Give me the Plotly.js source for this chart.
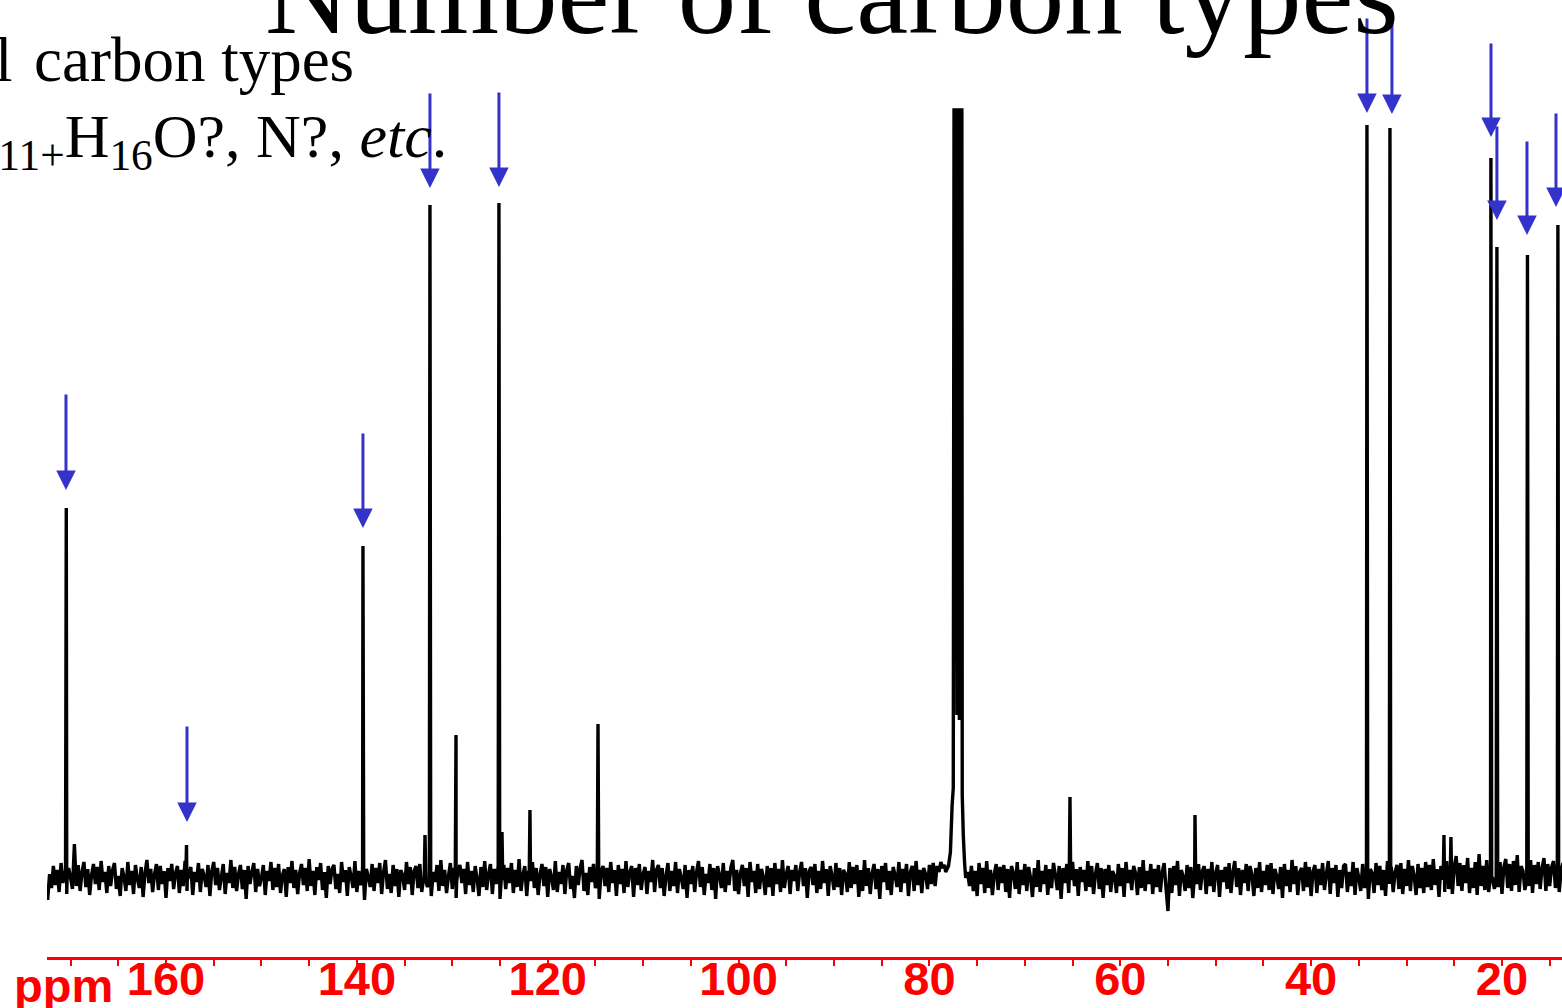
<!DOCTYPE html>
<html><head><meta charset="utf-8">
<script src="https://cdn.plot.ly/plotly-3.0.1.min.js"></script>
<style>html,body{margin:0;padding:0;background:#fff;overflow:hidden}#chart{width:1562px;height:1008px}</style>
</head><body><div id="chart"></div>
<script>
// ---- 13C spectrum data (ppm axis, intensity in arbitrary units; baseline = 0) ----
const noiseStart = 172.4;   // ppm of first baseline sample
const noiseStep = 0.2;      // ppm between baseline samples
const noise = [
 -20, 6, -8, 14, -5, 10, -12, 17, -3, 9, -14, 12, 2, -9, 36, -6, 15, -11, 8, 18,
 -7, 11, -15, 5, 16, -4, 13, -10, 19, -2, 8, -13, 14, -6, 10, 17, -9, 4, -16, 12,
 3, -11, 18, -5, 9, -14, 15, 1, -8, 13, -17, 7, 20, -3, 11, -12, 6, 16, -10, 14,
 -4, 9, -18, 12, -1, 16, -9, 7, 14, -13, 10, -6, 19, -11, 5, 13, -15, 8, -2, 17,
 -12, 11, 4, -7, 15, -16, 9, 18, -5, 12, -10, 3, 16, -14, 7, -3, 20, -8, 13, -11,
 6, 15, -9, 10, -19, 14, -4, 8, 17, -12, 11, -6, 2, 15, -15, 9, -1, 18, -10, 12,
 -7, 16, -13, 5, 11, -17, 13, -3, 19, -8, 10, -14, 7, 16, -5, 12, -11, 21, -6, 9,
 -15, 13, 0, 17, -10, 8, -18, 14, -4, 11, 15, -9, 6, -13, 18, -2, 10, -16, 13, 4,
 -8, 19, -12, 9, -5, 14, -20, 11, 3, -7, 16, -11, 12, -3, 17, -14, 8, 20, -9, 6,
 -13, 15, -6, 11, -17, 10, 5, -10, 18, -4, 13, -15, 9, 14, -8, 16, -12, 2, 19, -7,
 12, -16, 8, -2, 15, -11, 20, -6, 10, -13, 4, 17, -9, 12, -18, 7, 15, -3, 11, -14,
 18, -5, 9, -12, 14, 1, -16, 13, -7, 19, -10, 6, 16, -14, 11, -4, 13, -19, 8, 15,
 -9, 12, -3, 17, -13, 10, -7, 21, -11, 5, 14, -16, 9, -1, 18, -8, 12, -15, 6, 16,
 -6, 13, -17, 11, 3, -10, 19, -12, 8, -4, 15, -14, 10, 17, -9, 4, -18, 14, -5, 12,
 20, -11, 7, -15, 13, -2, 16, -8, 11, -19, 9, 14, -6, 12, -12, 18, -3, 10, -16, 15,
 -4, 11, -13, 19, -7, 8, 14, -17, 12, -5, 16, -10, 6, 13, -14, 9, -2, 20, -12, 10,
 15, -8, 12, -16, 4, 17, -11, 9, -6, 18, -13, 11, 2, -9, 15, -18, 10, -4, 14, -12,
 8, 19, -7, 13, -15, 6, -3, 16, -10, 12, -19, 14, 5, -8, 17, -12, 9, -5, 13, 20,
 -11, 10, -14, 7, 15, -6, 12, -17, 18, -2, 9, -13, 16, -9, 11, 3, -15, 14, -7, 12,
 -16, 17, -4, 11, -12, 20, -8, 6, 14, -14, 10, -1, 15, -11, 8, 18, -6, 12, -18, 9,
 13, -5, 16, -13, 9, -9, 19, -3, 11, -16, 14, 4, -10, 17, -7, 12, -15, 10, 6, -12,
 18, -8, 13, -4, 15, -17, 10, -11, 20, -6, 12, -14, 7, 16, -9, 11, -19, 14, -2, 17,
 -10, 9, -15, 13, 5, -7, 18, -12, 11, -3, 16, -16, 8, 14, -11, 19, -5, 10, -13, 12,
 6, -9, 15, -4, 17, -6, 14, 8, 18, 12, 15, 0, 0, 0, 0, 0, 0, 0, 0, 0,
 0, 0, 8, -6, 14, -11, 9, -16, 17, -4, 12, -13, 19, -8, 10, -15, 6, 16, -10, 13,
 -3, 15, -12, 11, -18, 14, 7, -9, 18, -14, 10, -5, 16, -11, 13, 2, -17, 12, -7, 20,
 -12, 9, -4, 15, -15, 11, -8, 17, 5, -10, 14, -19, 12, -3, 16, -13, 8, 18, -6, 11,
 -16, 13, -2, 10, -11, 19, -7, 14, -14, 6, 17, -9, 12, -18, 11, -5, 15, -12, 9, 4,
 -13, 16, -6, 12, -17, 18, -3, 10, -10, 14, 7, -15, 13, -8, 20, -11, 9, -4, 16, -14,
 11, -7, 15, -12, 8, 17, -9, -31, 12, -13, 14, -5, 19, -16, 10, 3, -11, 15, -8, 13,
 -18, 12, -4, 16, -10, 9, 14, -14, 11, -6, 18, -12, 7, 15, -17, 10, -2, 13, -9, 17,
 -13, 8, 19, -7, 12, -15, 10, -3, 16, -11, 14, 5, -16, 12, -8, 18, -12, 9, -5, 15,
 -10, 17, -14, 11, 4, -9, 13, -18, 16, -6, 10, -12, 20, -4, 14, -15, 8, 12, -11, 18,
 -7, 13, -16, 9, 15, -13, 11, -5, 17, -10, 6, 19, -14, 12, -3, 15, -17, 10, -8, 14,
 16, -12, 8, -6, 18, -15, 12, 2, -11, 16, -8, 13, -19, 11, 7, -13, 17, -5, 14, -10,
 10, -16, 19, -4, 13, -12, 8, 15, -9, 17, -14, 11, -6, 20, -11, 14, 4, -15, 16, -8,
 12, -13, 18, -7, 15, -10, 21, -5, 11, -17, 14, 6, -12, 19, -9, 16, -14, 13, 24, -6,
 17, -11, 15, -3, 22, -13, 12, -8, 18, -15, 26, -6, 14, -10, 20, -12, 16, 3, -9, 23,
 -7, 18, -14, 13, 21, -8, 16, -11, 19, -5, 25, -12, 14, 9, -10, 17, -6, 20, -13, 15,
 -4, 18, -9, 12, 22, -11, 16, -6, 13, 19, -8, 15, -12, 10, 17, -5, 14, -7, 11, 9
];
const peakPpm = [170.45, 157.85, 139.36, 132.86, 132.34, 129.61, 125.11, 124.79, 121.86, 114.73,
                 65.27, 52.17, 34.15, 31.74, 26.08, 25.35, 21.16, 20.53, 17.33, 14.14];
const peakInt = [372, 35, 334, 45, 675, 145, 677, 48, 70, 156,
                 83, 65, 755, 752, 45, 43, 722, 633, 625, 655];
// CDCl3 triplet (77 ppm), drawn clipped as in the reference
const solventPpm = [78.3, 78.0, 77.8, 77.62, 77.5, 77.42, 77.3, 77.2, 77.12, 77.02, 76.95, 76.86, 76.78, 76.7, 76.6, 76.56, 76.45, 76.32, 76.2];
const solventInt = [8, 14, 28, 75, 92, 770, 770, 770, 165, 770, 770, 160, 770, 770, 770, 85, 45, 18, 2];
// marked carbon signals (blue arrows): ppm, arrow tip and tail intensity
const arrowPpm  = [170.48, 157.80, 139.36, 132.34, 125.11, 34.15, 31.53, 21.15, 20.53, 17.38, 14.34];
const arrowTip  = [390, 58, 352, 692, 693, 767, 766, 743, 660, 645, 673];
const arrowTail = [487, 155, 448, 788, 789, 863, 862, 838, 755, 740, 768];
// axis ticks
const tickVals = [160, 140, 120, 100, 80, 60, 40, 20];
const tickText = ['160', '140', '120', '100', '80', '60', '40', '20'];
const unitLabel = 'ppm';
const titleText = 'Number of carbon types';
const line1Head = 'Total';
const line1Text = 'carbon types';
const line2Text = 'C<sub>11+</sub>H<sub>16</sub>O?, N?, <i>etc</i>.';

// ---- build spectrum trace ----
const sLo = solventPpm[solventPpm.length - 1], sHi = solventPpm[0];
const pts = [];
noise.forEach((v, i) => {
  const p = noiseStart - i * noiseStep;
  if (p > sHi + 0.05 || p < sLo - 0.05) pts.push([p, v]);
});
peakPpm.forEach((p, k) => { pts.push([p + 0.08, 0], [p, peakInt[k]], [p - 0.08, 0]); });
solventPpm.forEach((p, k) => pts.push([p, solventInt[k]]));
pts.sort((a, b) => b[0] - a[0]);

const trace = {
  type: 'scatter', mode: 'lines',
  x: pts.map(d => d[0]), y: pts.map(d => d[1]),
  line: {color: '#000000', width: 3.4, simplify: false},
  hoverinfo: 'skip', showlegend: false
};

const PX_L = 47, PLOT_W = 1515, PLOT_H = 957;
const px2x = px => (px - PX_L) / PLOT_W;
const px2y = py => (PLOT_H - py) / PLOT_H;

const serif = 'Liberation Serif, Times New Roman, serif';
const sans = 'Liberation Sans, Arial, sans-serif';

const annotations = [];
arrowPpm.forEach((p, k) => annotations.push({
  xref: 'x', yref: 'y', axref: 'x', ayref: 'y',
  x: p, y: arrowTip[k], ax: p, ay: arrowTail[k],
  text: '', showarrow: true, arrowhead: 2, arrowsize: 1.3, arrowwidth: 3,
  arrowcolor: '#3333cc', standoff: 0, startstandoff: 0
}));
annotations.push({xref: 'paper', yref: 'paper', x: px2x(832), y: px2y(-6), xanchor: 'center', yanchor: 'middle',
  text: titleText, showarrow: false, font: {family: serif, size: 117, color: '#000'}});
annotations.push({xref: 'paper', yref: 'paper', x: px2x(15), y: px2y(60), xanchor: 'right', yanchor: 'middle',
  text: line1Head, showarrow: false, font: {family: serif, size: 63, color: '#000'}});
annotations.push({xref: 'paper', yref: 'paper', x: px2x(356), y: px2y(60), xanchor: 'right', yanchor: 'middle',
  text: line1Text, showarrow: false, font: {family: serif, size: 63, color: '#000'}});
annotations.push({xref: 'paper', yref: 'paper', x: px2x(449), y: px2y(140), xanchor: 'right', yanchor: 'middle',
  text: line2Text, showarrow: false, font: {family: serif, size: 62, color: '#000'}});
annotations.push({xref: 'x', yref: 'paper', x: 170.74, y: px2y(985), xanchor: 'center', yanchor: 'middle',
  text: unitLabel, showarrow: false, font: {family: sans, size: 47, color: '#ff0000', weight: 'bold'}});

const layout = {
  width: 1562, height: 1008,
  margin: {l: PX_L, r: 0, t: 0, b: 51, pad: 0},
  paper_bgcolor: '#ffffff', plot_bgcolor: '#ffffff',
  showlegend: false,
  xaxis: {
    range: [172.47, 13.71], autorange: false, fixedrange: true,
    showgrid: false, zeroline: false,
    showline: true, linecolor: '#ff0000', linewidth: 3,
    tickmode: 'array', tickvals: tickVals, ticktext: tickText,
    ticks: 'outside', ticklen: 6, tickwidth: 2, tickcolor: '#ff0000',
    ticklabelstandoff: -27,
    tickfont: {family: sans, size: 47, color: '#ff0000', weight: 'bold'},
    minor: {tickmode: 'linear', tick0: 0, dtick: 5, ticks: 'outside', ticklen: 6, tickwidth: 2, tickcolor: '#ff0000', showgrid: false}
  },
  yaxis: {range: [-77, 880], autorange: false, visible: false, fixedrange: true},
  annotations: annotations
};

Plotly.newPlot('chart', [trace], layout, {displayModeBar: false, staticPlot: true});
</script>
</body></html>
